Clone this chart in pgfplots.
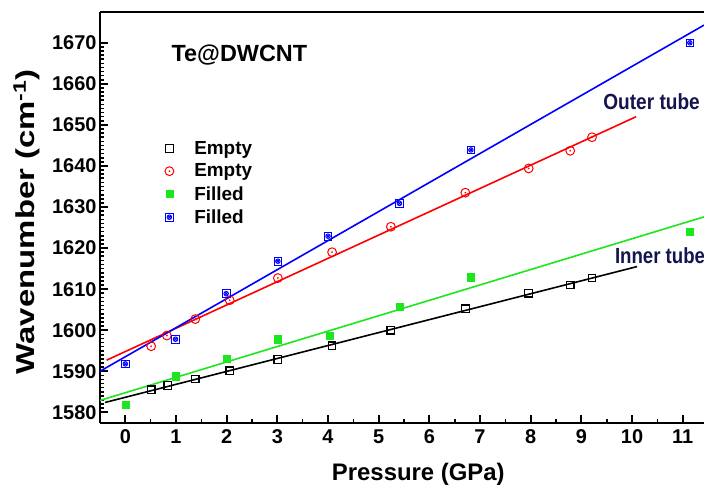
\documentclass[border=0pt]{standalone}
\usepackage{fontspec}
\setmainfont{Liberation Sans}
\setsansfont{Liberation Sans}
\usepackage{graphicx}
\usepackage{pgfplots}
\pgfplotsset{compat=1.18}
\usetikzlibrary{calc}
\definecolor{navytext}{RGB}{20,20,80}
\definecolor{fillgreen}{RGB}{30,230,30}

\pgfdeclareplotmark{sqx}{%
  \pgfpathrectangle{\pgfpoint{-\pgfplotmarksize}{-\pgfplotmarksize}}{\pgfpoint{2\pgfplotmarksize}{2\pgfplotmarksize}}%
  \pgfusepath{stroke}%
  \pgfpathcircle{\pgfpointorigin}{0.6\pgfplotmarksize}%
  \pgfpathmoveto{\pgfpoint{-0.45\pgfplotmarksize}{-0.45\pgfplotmarksize}}%
  \pgfpathlineto{\pgfpoint{0.45\pgfplotmarksize}{0.45\pgfplotmarksize}}%
  \pgfpathmoveto{\pgfpoint{-0.45\pgfplotmarksize}{0.45\pgfplotmarksize}}%
  \pgfpathlineto{\pgfpoint{0.45\pgfplotmarksize}{-0.45\pgfplotmarksize}}%
  \pgfusepath{stroke}}
\pgfdeclareplotmark{circdot}{%
  \pgfpathcircle{\pgfpointorigin}{\pgfplotmarksize}%
  \pgfusepath{stroke}%
  \pgfpathcircle{\pgfpointorigin}{0.22\pgfplotmarksize}%
  \pgfusepath{fill}}

\begin{document}
\begin{tikzpicture}
\begin{axis}[
    scale only axis,
    width=604bp, height=411bp,
    xmin=-0.5, xmax=11.42,
    ymin=1577.4, ymax=1677.5,
    axis x line*=box, axis y line*=left,
    axis line style={line width=2.4bp},
    xtick={0,...,11}, ytick={1580,1590,...,1670},
    minor x tick num=1, minor y tick num=9,
    xtick pos=bottom, ytick pos=left,
    tick align=inside,
    major tick length=8bp, minor tick length=4bp,
    major tick style={line width=2bp, black},
    minor tick style={line width=1.6bp, black},
    tick label style={font=\fontsize{20}{22}\selectfont\bfseries},
    xticklabel style={yshift=-3bp},
    /pgf/number format/assume math mode=true,
    /pgf/number format/1000 sep={},
    xlabel={Pressure (GPa)},
    ylabel={\scalebox{1.27}[1]{Wavenumber (cm\textsuperscript{-1})}},
    xlabel style={font=\fontsize{24}{26}\selectfont\bfseries,
      at={(axis description cs:0.527,-0.124)}, anchor=center},
    ylabel style={font=\fontsize{26}{28}\selectfont\bfseries,
      at={(axis description cs:-0.121,0.49)}, anchor=center},
    legend style={draw=none, fill=none, at={(axis cs:0.71,1647.0)}, anchor=north west,
      font=\fontsize{19}{20}\selectfont\bfseries, row sep=4bp,
      /tikz/every odd column/.append style={column sep=18bp}},
    legend cell align=left,
    clip=true,
]
% fitted lines (endpoints)
\addplot[black, line width=1.6bp, forget plot] coordinates {(-0.4,1582.4) (10.1,1615.5)};
\addplot[red, line width=1.6bp, forget plot] coordinates {(-0.37,1592.7) (10.08,1652.0)};
\addplot[fillgreen, line width=1.6bp, forget plot] coordinates {(-0.5,1582.9) (11.42,1627.6)};
\addplot[blue, line width=1.6bp, forget plot] coordinates {(-0.5,1590.0) (11.42,1674.3)};

\addplot[only marks, mark=square, mark size=3.8bp, mark options={black, line width=1.2bp}]
 coordinates {(0.51,1585.5) (0.84,1586.5) (1.38,1588.1) (2.06,1590.1) (3.01,1592.9) (4.08,1596.2)
 (5.24,1600.0) (6.71,1605.2) (7.96,1609.0) (8.78,1611.0) (9.21,1612.7)};
\addlegendentry{Empty}
\addplot[only marks, mark=circdot, mark size=4.4bp, mark options={red, fill=red, line width=1bp}]
 coordinates {(0.51,1596.1) (0.82,1598.7) (1.38,1602.7) (2.06,1607.3) (3.01,1612.7) (4.08,1619.0)
 (5.24,1625.2) (6.71,1633.5) (7.96,1639.4) (8.78,1643.7) (9.21,1647.0)};
\addlegendentry{Empty}
\addplot[only marks, mark=square*, mark size=3.6bp, mark options={fill=fillgreen, draw=fillgreen}]
 coordinates {(0,1581.8) (0.99,1588.8) (2.0,1593.0) (3.01,1597.8) (4.03,1598.7) (5.41,1605.8)
 (6.82,1612.9) (11.14,1624.0)};
\addlegendentry{Filled}
\addplot[only marks, mark=sqx, mark size=3.8bp, mark options={blue, line width=0.9bp}]
 coordinates {(0,1591.8) (0.99,1597.8) (1.99,1608.9) (3.01,1616.8) (4.0,1622.9) (5.41,1630.9)
 (6.82,1643.9) (11.14,1670.0)};
\addlegendentry{Filled}

\node[font=\fontsize{23.5}{25}\selectfont\bfseries, anchor=west, inner sep=0pt] at (axis cs:0.91,1667) {Te@DWCNT};
\node[font=\fontsize{22}{24}\selectfont\bfseries, text=navytext, anchor=west, inner sep=0pt] at (axis cs:9.43,1655.7) {\scalebox{0.87}[1]{Outer tube}};
\node[font=\fontsize{22}{24}\selectfont\bfseries, text=navytext, anchor=west, inner sep=0pt] at (axis cs:9.66,1618.2) {\scalebox{0.85}[1]{Inner tube}};
\end{axis}
\pgfresetboundingbox
\useasboundingbox ($(current axis.south west)+(-100bp,-63bp)$) rectangle ($(current axis.north east)+(0bp,12bp)$);
\end{tikzpicture}
\end{document}
